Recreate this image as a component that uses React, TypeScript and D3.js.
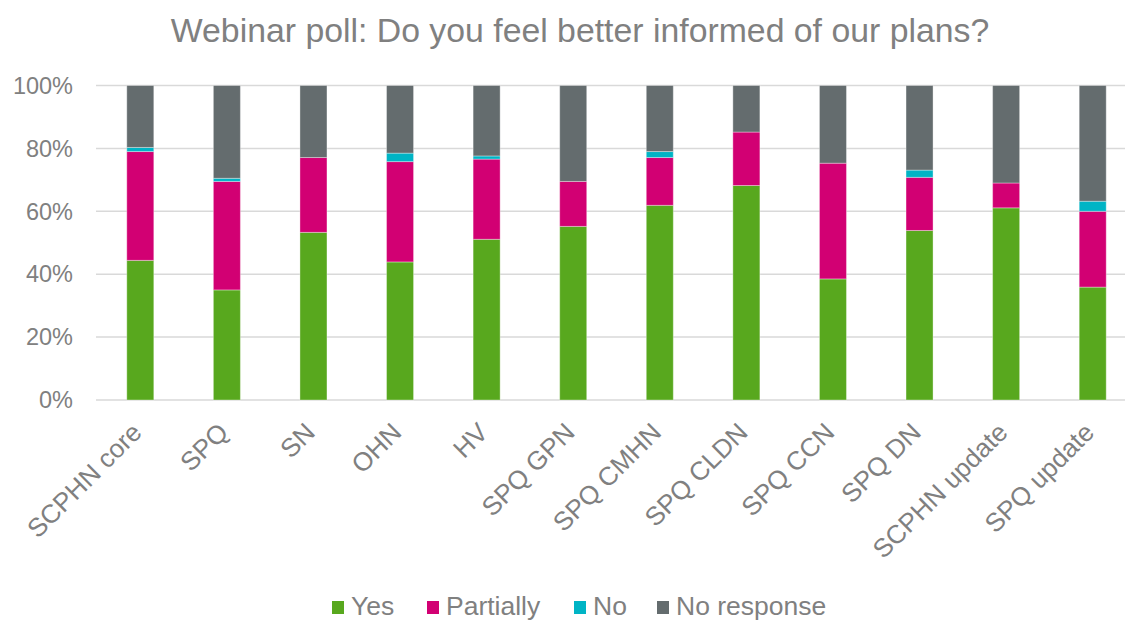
import React from "react";
import * as d3 from "d3";

const categories = ["SCPHN core", "SPQ", "SN", "OHN", "HV", "SPQ GPN", "SPQ CMHN", "SPQ CLDN", "SPQ CCN", "SPQ DN", "SCPHN update", "SPQ update"];
const yes = [44.4, 35.0, 53.3, 43.9, 51.1, 55.2, 61.9, 68.2, 38.5, 53.9, 61.1, 35.9];
const partially = [34.6, 34.5, 23.8, 31.9, 25.5, 14.3, 15.2, 17.0, 36.8, 16.9, 7.9, 24.1];
const no = [1.3, 1.0, 0, 2.7, 1.0, 0, 1.9, 0, 0, 2.3, 0, 3.2];
const noResponse = [19.7, 29.5, 22.9, 21.5, 22.4, 30.5, 21.0, 14.8, 24.7, 26.9, 31.0, 36.8];
const seriesNames = ["Yes", "Partially", "No", "No response"];
const seriesColors = ["#58A81E", "#D20073", "#00B4C5", "#646C6E"];
const yTicks = [0, 20, 40, 60, 80, 100];

const W = 1125;
const H = 621;
const left = 97;
const right = 1136;
const top = 85.5;
const bottom = 400;
const FONT = "'Liberation Sans', Arial, sans-serif";
const TEXT = "#808080";

export default function App() {
  const rows = categories.map((c, i) => ({
    cat: c,
    Yes: yes[i],
    Partially: partially[i],
    No: no[i],
    "No response": noResponse[i],
  }));
  const stack = d3.stack<any>().keys(seriesNames);
  const layers = stack(rows);
  const x = d3.scaleBand().domain(categories).range([left, right]).paddingInner(0.688).paddingOuter(0.344);
  const y = d3.scaleLinear().domain([0, 100]).range([bottom, top]);

  const legendItems = [
    { sq: 332, tx: 351 },
    { sq: 427, tx: 446 },
    { sq: 574, tx: 593 },
    { sq: 657, tx: 676 },
  ];

  return (
    <svg width={W} height={H} style={{ position: "absolute", left: 0, top: 0, background: "#fff" }} fontFamily={FONT}>
      <rect x={0} y={0} width={W} height={H} fill="#ffffff" />
      <text x={580} y={42} textAnchor="middle" fontSize={33.8} fill={TEXT}>
        Webinar poll: Do you feel better informed of our plans?
      </text>
      {yTicks.map((t) => (
        <g key={t}>
          <line x1={96} x2={W} y1={y(t)} y2={y(t)} stroke="#D9D9D9" strokeWidth={1.5} />
          <text x={73} y={y(t)} dy="0.35em" textAnchor="end" fontSize={23.5} fill={TEXT}>
            {t}%
          </text>
        </g>
      ))}
      {layers.map((layer, li) => (
        <g key={layer.key} fill={seriesColors[li]}>
          {layer.map((d, i) =>
            d[1] - d[0] > 0 ? (
              <rect
                key={i}
                x={x(categories[i])!}
                width={x.bandwidth()}
                y={y(d[1])}
                height={y(d[0]) - y(d[1])}
                stroke="#ffffff"
                strokeOpacity={0.35}
                strokeWidth={1}
              />
            ) : null
          )}
        </g>
      ))}
      {categories.map((c) => {
        const cx = x(c)! + x.bandwidth() / 2;
        return (
          <text
            key={c}
            transform={`translate(${cx + 3},${434}) rotate(-45)`}
            textAnchor="end"
            fontSize={26}
            fill={TEXT}
          >
            {c}
          </text>
        );
      })}
      {seriesNames.map((s, i) => (
        <g key={s}>
          <rect x={legendItems[i].sq} y={601} width={12} height={13} fill={seriesColors[i]} />
          <text x={legendItems[i].tx} y={615} fontSize={26.5} fill={TEXT}>
            {s}
          </text>
        </g>
      ))}
    </svg>
  );
}
